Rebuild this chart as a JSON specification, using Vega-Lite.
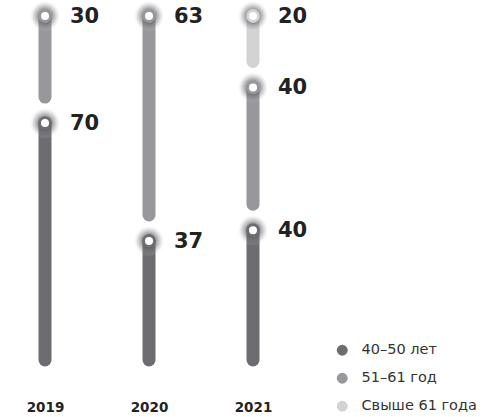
{
  "$schema": "https://vega.github.io/schema/vega-lite/v6.json",
  "autosize": {"type": "none"},
  "padding": {"top": 0, "left": 0, "right": 0, "bottom": 25},
  "width": 484,
  "height": 392,
  "background": "#ffffff",
  "config": {"view": {"stroke": null}, "font": "DejaVu Sans"},
  "data": {
    "values": [
      {"year": "2019", "group": "40–50 лет", "order": 1, "value": 70},
      {"year": "2019", "group": "51–61 год", "order": 2, "value": 30},
      {"year": "2020", "group": "40–50 лет", "order": 1, "value": 37},
      {"year": "2020", "group": "51–61 год", "order": 2, "value": 63},
      {"year": "2021", "group": "40–50 лет", "order": 1, "value": 40},
      {"year": "2021", "group": "51–61 год", "order": 2, "value": 40},
      {"year": "2021", "group": "Свыше 61 года", "order": 3, "value": 20}
    ]
  },
  "transform": [
    {"stack": "value", "groupby": ["year"], "sort": [{"field": "order"}], "as": ["start", "end"]}
  ],
  "encoding": {
    "x": {
      "field": "year", "type": "ordinal",
      "scale": {"type": "point", "range": [45, 253], "padding": 0},
      "axis": {"title": null, "domain": false, "ticks": false, "labelAngle": 0, "labelPadding": 8, "labelFontSize": 13.5, "labelFontWeight": "bold", "labelColor": "#222222", "labelFont": "DejaVu Sans"}
    }
  },
  "layer": [
    {
      "transform": [{"filter": "datum.start == 0"}],
      "mark": {"type": "rule", "strokeWidth": 13, "strokeCap": "round", "y2Offset": -13},
      "encoding": {
        "y": {"field": "end", "type": "quantitative", "scale": {"domain": [0, 100], "range": [373, 16]}, "axis": null},
        "y2": {"field": "start"},
        "color": {
          "field": "group", "type": "nominal",
          "scale": {"domain": ["40–50 лет", "51–61 год", "Свыше 61 года"], "range": ["#6d6d71", "#98989c", "#d3d3d5"]},
          "legend": {"title": null, "orient": "none", "legendX": 335, "legendY": 343, "symbolType": "circle", "symbolSize": 120, "symbolStrokeWidth": 0, "labelFontSize": 14.5, "labelColor": "#333333", "labelFont": "DejaVu Sans", "labelOffset": 12, "rowPadding": 13}
        }
      }
    },
    {
      "transform": [{"filter": "datum.start > 0"}],
      "mark": {"type": "rule", "strokeWidth": 13, "strokeCap": "round", "y2Offset": -26},
      "encoding": {
        "y": {"field": "end", "type": "quantitative"},
        "y2": {"field": "start"},
        "color": {"field": "group", "type": "nominal"}
      }
    },
    {
      "mark": {
        "type": "point", "filled": true, "size": 1000, "strokeWidth": 0, "opacity": 1,
        "fill": {"gradient": "radial", "x1": 0.5, "y1": 0.5, "r1": 0, "x2": 0.5, "y2": 0.5, "r2": 0.5,
          "stops": [
            {"offset": 0, "color": "rgba(80,80,85,0.9)"},
            {"offset": 0.5, "color": "rgba(100,100,105,0.55)"},
            {"offset": 0.75, "color": "rgba(140,140,145,0.25)"},
            {"offset": 1, "color": "rgba(255,255,255,0)"}
          ]}
      },
      "encoding": {"y": {"field": "end", "type": "quantitative"}}
    },
    {
      "mark": {"type": "point", "filled": true, "size": 190, "strokeWidth": 0, "opacity": 1},
      "encoding": {
        "y": {"field": "end", "type": "quantitative"},
        "color": {"field": "group", "type": "nominal"}
      }
    },
    {
      "mark": {"type": "point", "filled": true, "size": 64, "strokeWidth": 0, "opacity": 1, "color": "#ffffff"},
      "encoding": {"y": {"field": "end", "type": "quantitative"}}
    },
    {
      "mark": {"type": "text", "align": "left", "baseline": "middle", "dx": 25, "dy": 1, "fontSize": 21, "fontWeight": "bold", "color": "#222222", "font": "DejaVu Sans"},
      "encoding": {
        "y": {"field": "end", "type": "quantitative"},
        "text": {"field": "value", "type": "quantitative"}
      }
    }
  ]
}
